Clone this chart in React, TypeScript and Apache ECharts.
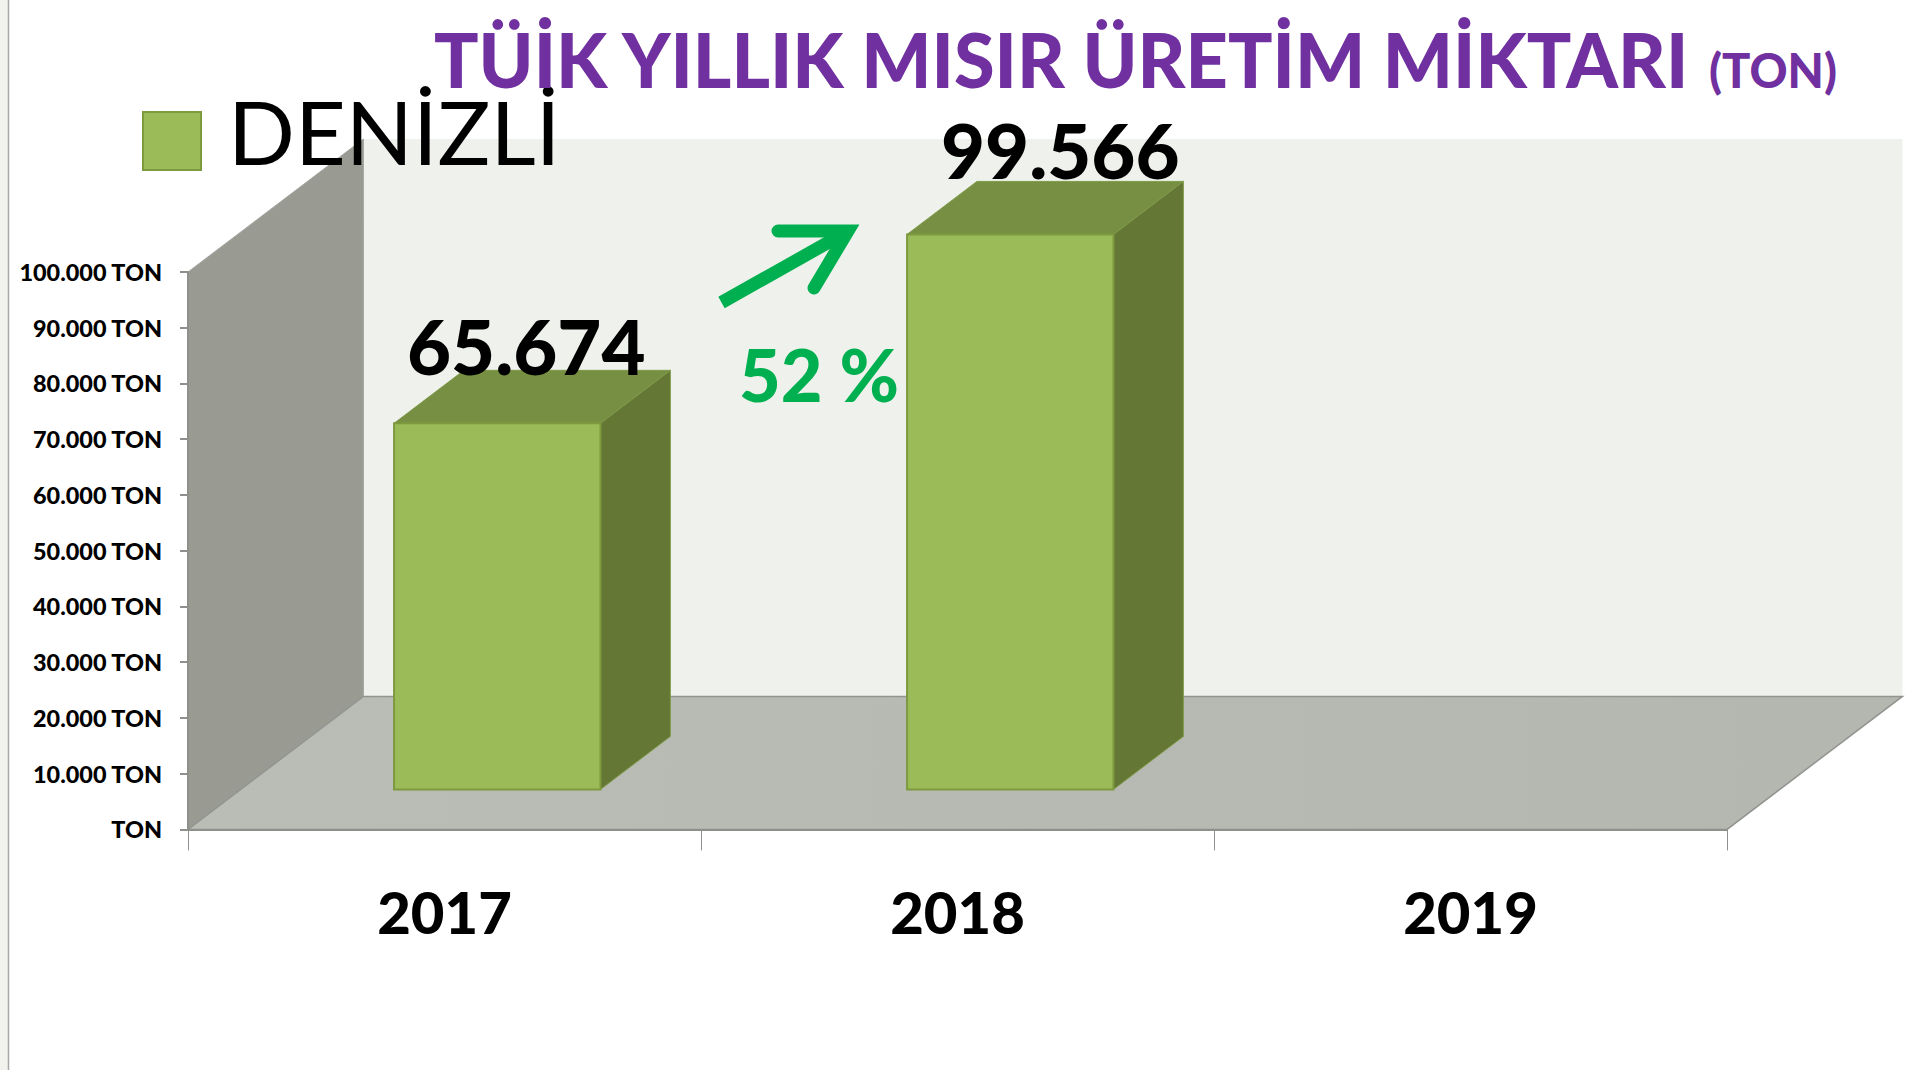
import React, { useEffect, useRef } from "react";
import * as echarts from "echarts";

const categories = ["2017", "2018", "2019"];
const seriesName = "DENİZLİ";
const values: (number | null)[] = [65674, 99566, null];
const valueLabels = ["65.674", "99.566", ""];
const yTickLabels = ["TON", "10.000 TON", "20.000 TON", "30.000 TON", "40.000 TON", "50.000 TON", "60.000 TON", "70.000 TON", "80.000 TON", "90.000 TON", "100.000 TON"];
const titleMain = "TÜİK YILLIK MISIR ÜRETİM MİKTARI";
const titleUnit = "(TON)";
const changeLabel = "52 %";

const FONT = "Lato, 'Open Sans', sans-serif";
const SLOPE = 175.4 / 133;
const FLOOR_DY = 133;
const WALL_TOP_DY = 133;
const BAR_INSET_DY = 40;
const BAR_DEPTH_DY = 53;
const BAR_RATIO = 206.4 / 513;
const labelDx = [29, 50, 0];
const labelDy = [13, 6, 0];

function renderWalls(_p: any, api: any) {
  const band = api.size([1, 0])[0];
  const [cx0, y0] = api.coord([0, 0]);
  const yTop = api.coord([0, 100000])[1];
  const left = cx0 - band / 2;
  const right = left + band * 3;
  const dx = FLOOR_DY * SLOPE;
  const backY = y0 - FLOOR_DY;
  const topBack = yTop - WALL_TOP_DY;
  const edge = "#929490";
  return {
    type: "group",
    children: [
      { type: "polygon", shape: { points: [[left + dx, topBack], [right + dx, topBack], [right + dx, backY], [left + dx, backY]] }, style: { fill: "#EFF2EC" } },
      { type: "polygon", shape: { points: [[left, yTop], [left + dx, topBack], [left + dx, backY], [left, y0]] }, style: { fill: "#999B93", stroke: "#A3A5A0", lineWidth: 1 } },
      {
        type: "polygon",
        shape: { points: [[left, y0], [left + dx, backY], [right + dx, backY], [right, y0]] },
        style: {
          fill: new echarts.graphic.LinearGradient(0, 0, 1, 0, [{ offset: 0, color: "#BABDB5" }, { offset: 1, color: "#B4B7AF" }]),
          stroke: edge,
          lineWidth: 1.5,
        },
      },
    ],
  };
}

function renderBar(_p: any, api: any) {
  const idx = api.value(0);
  const val = api.value(1);
  if (val == null || isNaN(val)) return { type: "group", children: [] };
  const band = api.size([1, 0])[0];
  const [cx, yAxis0] = api.coord([idx, 0]);
  const yVal = api.coord([idx, val])[1];
  const w = band * BAR_RATIO;
  const sx = BAR_INSET_DY * SLOPE;
  const dx = BAR_DEPTH_DY * SLOPE;
  const l = cx - w / 2 + sx;
  const r = l + w;
  const b = yAxis0 - BAR_INSET_DY;
  const t = yVal - BAR_INSET_DY;
  const d = BAR_DEPTH_DY;
  return {
    type: "group",
    children: [
      { type: "polygon", shape: { points: [[l, t], [l + dx, t - d], [r + dx, t - d], [r, t]] }, style: { fill: "#778F42", stroke: "#7F9A48", lineWidth: 1 } },
      { type: "polygon", shape: { points: [[r, t], [r + dx, t - d], [r + dx, b - d], [r, b]] }, style: { fill: "#647735", stroke: "#7F9A48", lineWidth: 1 } },
      { type: "rect", shape: { x: l, y: t, width: w, height: b - t }, style: { fill: "#9BBB59", stroke: "#7D9A3F", lineWidth: 2 } },
      {
        type: "text",
        x: cx + sx + labelDx[idx],
        y: t - d + labelDy[idx],
        style: { text: valueLabels[idx], fontFamily: FONT, fontWeight: 900, fontSize: 76, fill: "#000", textAlign: "center", textVerticalAlign: "bottom" },
        z2: 10,
      },
    ],
  };
}

export default function App() {
  const ref = useRef<HTMLDivElement>(null);
  useEffect(() => {
    const chart = echarts.init(ref.current!, undefined, { renderer: "svg" });
    chart.setOption({
      animation: false,
      backgroundColor: "#fff",
      grid: { left: 188, right: 180, top: 272, bottom: 240.6 },
      legend: {
        data: [{ name: seriesName, icon: "path://M0 0L0 0ZM0 20H58V78H0Z", itemStyle: { color: "#9BBB59", borderColor: "#7D9A3F", borderWidth: 2 } }],
        left: 142,
        top: 87,
        padding: 0,
        itemWidth: 58,
        itemHeight: 78,
        textStyle: { fontFamily: FONT, fontSize: 88, color: "#000", padding: [0, 0, 0, 22] },
      },
      xAxis: {
        type: "category",
        data: categories,
        axisLine: { lineStyle: { color: "#8E908C", width: 2 } },
        axisTick: { show: true, length: 21, lineStyle: { color: "#8E908C", width: 1 } },
        axisLabel: { margin: 53, fontFamily: FONT, fontWeight: 900, fontSize: 58, color: "#000" },
      },
      yAxis: {
        type: "value",
        min: 0,
        max: 100000,
        interval: 10000,
        splitLine: { show: false },
        axisLine: { show: true, lineStyle: { color: "#8E908C", width: 2 } },
        axisTick: { show: true, length: 8, lineStyle: { color: "#8E908C", width: 2 } },
        axisLabel: {
          margin: 26,
          fontFamily: FONT,
          fontWeight: 900,
          fontSize: 23.4,
          color: "#000",
          padding: [2, 0, 0, 0],
          formatter: (v: number) => yTickLabels[Math.round(v / 10000)],
        },
      },
      series: [
        { type: "custom", name: "walls", renderItem: renderWalls, data: [[0, 0]], z: 0, silent: true, clip: false },
        {
          type: "custom",
          name: seriesName,
          renderItem: renderBar,
          encode: { x: 0, y: 1 },
          data: values.map((v, i) => [i, v]),
          itemStyle: { color: "#9BBB59" },
          z: 1,
          clip: false,
        },
      ],
      graphic: [
        { type: "rect", left: 0, top: 0, shape: { width: 8, height: 1070 }, style: { fill: "#F1F1EE" }, z: 5 },
        { type: "line", shape: { x1: 8.5, y1: 0, x2: 8.5, y2: 1070 }, style: { stroke: "#A8A8A8", lineWidth: 1.5 }, z: 5 },
        { type: "text", x: 434, y: 97, scaleX: 0.972, style: { text: titleMain, fontFamily: FONT, fontWeight: 900, fontSize: 76, fill: "#7030A0", textAlign: "left", textVerticalAlign: "bottom" }, z: 6 },
        { type: "text", x: 1709, y: 93, style: { text: titleUnit, fontFamily: FONT, fontWeight: 900, fontSize: 47, fill: "#7030A0", textAlign: "left", textVerticalAlign: "bottom" }, z: 6 },
        { type: "text", x: 739, y: 410, style: { text: changeLabel, fontFamily: FONT, fontWeight: 900, fontSize: 72, fill: "#00B050", textAlign: "left", textVerticalAlign: "bottom" }, z: 6 },
        { type: "line", shape: { x1: 721.5, y1: 302.5, x2: 845, y2: 233 }, style: { stroke: "#00B050", lineWidth: 13, lineCap: "butt" }, z: 6 },
        { type: "polyline", shape: { points: [[778, 231], [848, 231], [814, 288]] }, style: { stroke: "#00B050", lineWidth: 13, lineCap: "round", lineJoin: "miter", miterLimit: 10, fill: "none" }, z: 6 },
      ],
    });
    return () => chart.dispose();
  }, []);
  return <div ref={ref} style={{ position: "absolute", left: 0, top: 0, width: 1907, height: 1070 }} />;
}
